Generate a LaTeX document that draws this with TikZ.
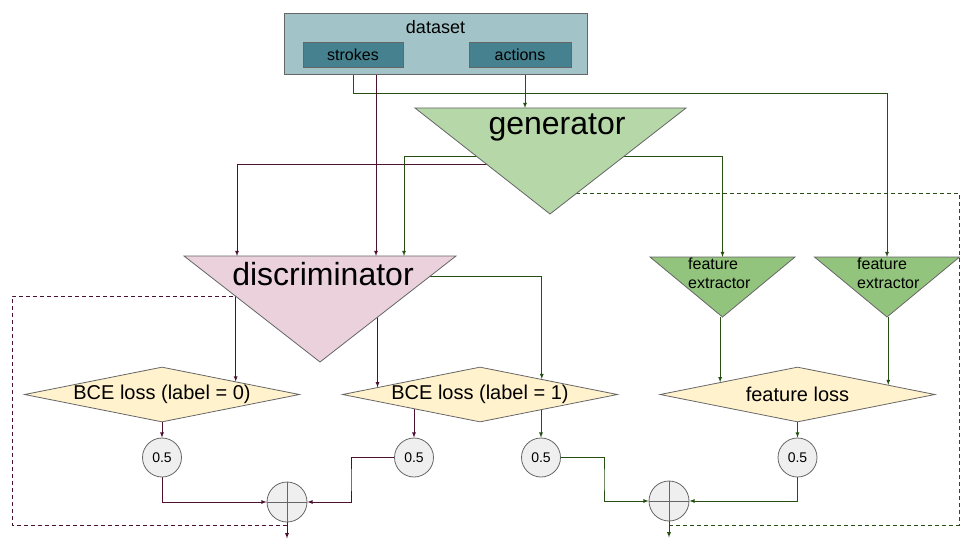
\documentclass[tikz,border=0pt]{standalone}
\usepackage{fontspec}
\setmainfont{Liberation Sans}
\usetikzlibrary{arrows,shapes.geometric,positioning}
\pgfdeclarelayer{bg}
\pgfsetlayers{bg,main}
\definecolor{datafill}{HTML}{A2C4C9}
\definecolor{itemfill}{HTML}{45818E}
\definecolor{genfill}{HTML}{B6D7A8}
\definecolor{discfill}{HTML}{EAD1DC}
\definecolor{featfill}{HTML}{93C47D}
\definecolor{lossfill}{HTML}{FFF2CC}
\definecolor{wfill}{HTML}{EFEFEF}
\definecolor{plum}{HTML}{4C1130}
\definecolor{moss}{HTML}{274E13}
\definecolor{edge}{HTML}{666666}

\begin{document}
\begin{tikzpicture}[x=1pt, y=-1pt, >=latex,
    shapeline/.style={draw=edge, line width=0.8pt},
    databox/.style={shapeline, fill=datafill, minimum width=303pt, minimum height=61pt, inner sep=0pt},
    itembox/.style={shapeline, fill=itemfill, minimum height=25pt, inner sep=0pt, font=\fontsize{16}{19}\selectfont},
    bigtext/.style={inner sep=0pt, anchor=base, font=\fontsize{32}{38}\selectfont},
    feattext/.style={inner sep=0pt, anchor=north west, align=left, font=\fontsize{16}{19}\selectfont},
    lossbox/.style={diamond, shapeline, fill=lossfill, aspect=5, minimum width=275pt, minimum height=55pt,
        inner sep=0pt, inner xsep=-10pt, font=\fontsize{20}{24}\selectfont},
    wnode/.style={circle, shapeline, fill=wfill, minimum size=39pt, inner sep=0pt, font=\fontsize{14}{17}\selectfont},
    sumnode/.style={circle, shapeline, fill=wfill, minimum size=40pt, inner sep=0pt},
    pline/.style={draw=plum, line width=0.8pt},
    gline/.style={draw=moss, line width=0.8pt},
    feedback/.style={dash pattern=on 4pt off 3pt}]
\useasboundingbox (0,0) rectangle (960,540);

\node[databox] (dataset) at (435.5,43.5) {};
\node[inner sep=0pt, font=\fontsize{18}{22}\selectfont, below=8pt of dataset.north] (dslabel) {dataset};
\node[itembox, minimum width=100pt] (strokes) at (353,54.5) {strokes};
\node[itembox, minimum width=102pt] (actions) at (520,54.5) {actions};

\draw[shapeline, fill=genfill] (415,108) coordinate (gL) -- (686,108) coordinate (gR) -- (550,214) coordinate (gA) -- cycle;
\node[bigtext] (gen) at (557,135) {generator};
\draw[shapeline, fill=discfill] (184,256) coordinate (dL) -- (456,256) coordinate (dR) -- (320,362) coordinate (dA) -- cycle;
\node[bigtext] (disc) at (323,285) {discriminator};
\foreach \n/\x in {f1/722.5, f2/887}
    \draw[shapeline, fill=featfill] (\x-72.5,257) coordinate (\n L) -- (\x+72.5,257) coordinate (\n R) -- (\x,317) coordinate (\n A) -- cycle;
\node[feattext] (fe1) at (688,258) {feature\\extractor};
\node[feattext] (fe2) at (857,258) {feature\\extractor};

\node[lossbox] (bce0) at (162,394.5) {BCE loss (label = 0)};
\node[lossbox] (bce1) at (480,394.5) {BCE loss (label = 1)};
\node[lossbox] (floss) at (797.5,394.5) {feature loss};

\foreach \n/\x in {c1/162, c2/414, c3/541, c4/797.5}
    \node[wnode] (\n) at (\x,457.5) {0.5};
\node[sumnode] (p1) at (287,502) {};
\node[sumnode] (p2) at (669,501) {};
\foreach \s in {p1, p2}
    \draw[shapeline] (\s.north) -- (\s.south) (\s.west) -- (\s.east);

\begin{pgfonlayer}{bg}
\draw[gline,->] (strokes.south) -- ++(0,26) -| (f2A |- f2L);
\draw[pline,->] (376,0 |- strokes.south) -- (376,0 |- dL);
\draw[gline,->] ([xshift=5pt]actions.south) -- ([xshift=5pt]actions.south |- gL);
\draw[pline,->] (gA |- 0,164) -| (237,0 |- dL);
\draw[gline,->] (gA |- 0,156) -| (404,0 |- dL);
\draw[gline,->] (gA |- 0,156) -| (f1A |- f1L);
\draw[gline,feedback] (p2 |- 0,525) -| (959,193) -- (gA |- 0,193);

\draw[pline,->] (bce0.10 |- 0,295) -- (bce0.10);
\draw[pline,->] (bce1.176 |- 0,300) -- (bce1.176);
\draw[gline,->] (dA |- 0,276) -| (bce1.14);
\draw[pline,feedback] (p1 |- 0,525) -| (12,296) -- (dA |- 0,296);

\draw[gline,->] (floss.171 |- f1A) -- (floss.171);
\draw[gline,->] (floss.6 |- f2A) -- (floss.6);

\draw[pline,->] (bce0) -- (c1);
\draw[pline,->] (c2 |- bce1) -- (c2);
\draw[gline,->] (c3 |- bce1) -- (c3);
\draw[gline,->] (floss) -- (c4);

\draw[pline,->] (c1) |- (p1);
\draw[pline,->] (c2) -| (351,480) |- (p1);
\draw[gline,->] (c3) -| (604,480) |- (p2);
\draw[gline,->] (c4) |- (p2);
\draw[pline,->] (p1.south) -- ++(0,16);
\draw[gline,->] (p2.south) -- ++(0,16);
\end{pgfonlayer}
\end{tikzpicture}
\end{document}
